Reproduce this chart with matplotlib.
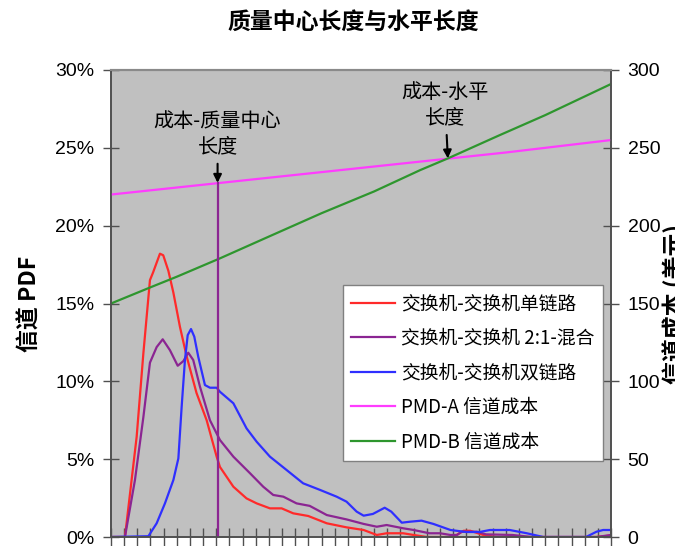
import matplotlib
matplotlib.use('Agg')
import matplotlib.pyplot as plt
from matplotlib.lines import Line2D

plt.rcParams['font.family'] = ['Liberation Sans', 'Noto Sans CJK SC', 'DejaVu Sans']
cjk = ['Noto Sans CJK SC', 'DejaVu Sans']

# 信道 PDF (%), each series on its own length samples
red_x = [0, 1.06, 1.95, 2.46, 2.96, 3.2, 3.72, 3.97, 4.36, 4.74, 5.24, 5.75, 6.5, 7.27, 8.03,
         8.28, 9.3, 10.3, 11.07, 12.08, 12.97, 13.85, 14.99, 16.4, 17.9, 19.2, 20.2, 20.95,
         22.2, 23.0, 24.0, 26.0, 26.8, 27.3, 28.3, 29.3, 36.9, 38]
red_y = [0, 0, 6.44, 11.8, 16.5, 17.0, 18.2, 18.1, 17.1, 15.7, 13.5, 11.6, 9.25, 7.5, 5.16,
         4.5, 3.23, 2.48, 2.16, 1.84, 1.84, 1.52, 1.35, 0.88, 0.62, 0.45, 0.13, 0.24,
         0.24, 0.13, 0, 0, 0.4, 0.4, 0.13, 0, 0, 0.1]

purple_x = [0, 1.06, 1.82, 2.46, 2.96, 3.47, 3.93, 4.48, 5.07, 5.5, 5.87, 6.25, 6.76, 7.52,
            8.28, 9.3, 10.56, 11.57, 12.33, 13.1, 14.1, 15.1, 16.4, 17.9, 19.2, 20.2, 20.95,
            22.2, 23.0, 24.2, 25.0, 25.8, 26.3, 26.65, 27.8, 28.5, 30.5, 32, 36.9, 38]
purple_y = [0, 0, 3.66, 7.7, 11.2, 12.2, 12.7, 12.0, 11.0, 11.3, 11.84, 11.37, 9.66, 7.5,
            6.23, 5.16, 4.1, 3.23, 2.7, 2.59, 2.16, 2.0, 1.41, 1.13, 0.84, 0.66, 0.77,
            0.56, 0.45, 0.24, 0.24, 0.13, 0.13, 0.34, 0.34, 0.17, 0.13, 0, 0, 0.13]

blue_x = [0, 2.84, 3.47, 4.1, 4.74, 5.12, 5.37, 5.62, 5.83, 6.08, 6.33, 6.63, 7.14, 7.52,
          8.03, 8.28, 9.3, 10.3, 11.07, 12.08, 13.35, 14.6, 15.9, 17.15, 17.9, 18.67, 19.2,
          19.9, 20.8, 21.3, 22.1, 22.7, 23.6, 24.5, 25.8, 27.0, 28.0, 28.8, 30.3, 31.6,
          32.85, 36.1, 36.9, 37.4, 38]
blue_y = [0, 0.05, 0.88, 2.16, 3.66, 5.05, 8.37, 11.37, 12.97, 13.36, 12.87, 11.58, 9.76, 9.59,
          9.59, 9.33, 8.59, 6.98, 6.12, 5.16, 4.3, 3.45, 3.02, 2.59, 2.27, 1.63, 1.37,
          1.48, 1.88, 1.63, 0.92, 0.98, 1.05, 0.84, 0.45, 0.32, 0.32, 0.45, 0.45, 0.24,
          0, 0, 0.34, 0.45, 0.45]

# 信道成本
pmd_a_x = [0, 5, 10, 15, 20, 25, 30, 38]
pmd_a_y = [220, 224.5, 229, 233.5, 238, 242.5, 247, 255]
pmd_b_x = [0, 3, 5, 8.28, 12, 16, 20, 23.5, 25.6, 29.5, 33, 38]
pmd_b_y = [150, 160.4, 167.2, 179, 193, 208, 222, 235.7, 243.2, 258, 271, 291]

labels = ['交换机-交换机单链路', '交换机-交换机 2:1-混合', '交换机-交换机双链路',
          'PMD-A 信道成本', 'PMD-B 信道成本']
colors = ['#ff2a2a', '#8b2592', '#2f2fff', '#ff3cff', '#2e962e']

cm_len = 8.1        # 成本-质量中心长度
cm_cost = 227.5
hz_len = 25.6       # 成本-水平长度
hz_cost = 243.2

fig = plt.figure(figsize=(6.75, 5.46), dpi=100)
ax = fig.add_axes([111 / 675, 9 / 546, 500 / 675, 467 / 546])
ax.set_facecolor('#c0c0c0')
ax2 = ax.twinx()

lw = 1.6
ax.plot(red_x, red_y, color=colors[0], lw=lw)
ax.plot(purple_x, purple_y, color=colors[1], lw=lw)
ax.plot(blue_x, blue_y, color=colors[2], lw=lw)
ax2.plot(pmd_a_x, pmd_a_y, color=colors[3], lw=lw)
ax2.plot(pmd_b_x, pmd_b_y, color=colors[4], lw=lw)
ax2.plot([cm_len, cm_len], [0, cm_cost], color=colors[1], lw=lw)

ax.set_xlim(0, 38)
ax.set_ylim(0, 30)
ax2.set_ylim(0, 300)
ax.set_xticks(range(0, 39))
ax.set_xticklabels([])
ax.set_yticks(range(0, 31, 5))
ax.set_yticklabels([f'{v}%' for v in range(0, 31, 5)])
ax2.set_yticks(range(0, 301, 50))

ax.tick_params(axis='x', direction='inout', length=13, width=1, color='#505050')
ax.tick_params(axis='y', direction='inout', length=12, width=1, color='#505050',
               labelsize=14, pad=6)
ax2.tick_params(axis='y', direction='inout', length=12, width=1, color='#505050',
                labelsize=14, pad=6)
for a in (ax, ax2):
    for side in ('left', 'right', 'bottom'):
        a.spines[side].set_color('#505050')
        a.spines[side].set_linewidth(1.2)
    a.spines['top'].set_color('#8a8a8a')
    a.spines['top'].set_linewidth(1.5)

ax.set_ylabel('信道 PDF', fontsize=16.5, fontweight='bold', family=cjk)
ax.yaxis.set_label_coords(-0.138, 0.5)
ax2.set_ylabel('信道成本 (美元)', fontsize=16.5, fontweight='bold', family=cjk)
ax2.yaxis.set_label_coords(1.104, 0.5)

arrow = dict(arrowstyle='-|>', color='black', lw=1.5, mutation_scale=12, shrinkA=3, shrinkB=0)
ax2.annotate('成本-质量中心\n长度', xy=(cm_len, cm_cost), xytext=(cm_len, 259),
             ha='center', va='center', fontsize=14.5, family=cjk, linespacing=1.25,
             arrowprops=arrow)
ax2.annotate('成本-水平\n长度', xy=(hz_len, hz_cost), xytext=(25.4, 277.5),
             ha='center', va='center', fontsize=14.5, family=cjk, linespacing=1.25,
             arrowprops=arrow)

handles = [Line2D([], [], color=c, lw=lw) for c in colors]
leg = ax2.legend(handles, labels, loc='upper left', bbox_to_anchor=(0.464, 0.54),
                 prop={'family': cjk, 'size': 13.5}, fancybox=False, framealpha=1,
                 edgecolor='#808080', handlelength=2.3, labelspacing=0.72,
                 borderpad=0.45, handletextpad=0.35, borderaxespad=0)
leg.get_frame().set_linewidth(1.0)

fig.text(353 / 675, 1 - 22 / 546, '质量中心长度与水平长度', ha='center', va='center',
         fontsize=16.5, fontweight='bold', family=cjk)

fig.savefig('out.png', dpi=100)
